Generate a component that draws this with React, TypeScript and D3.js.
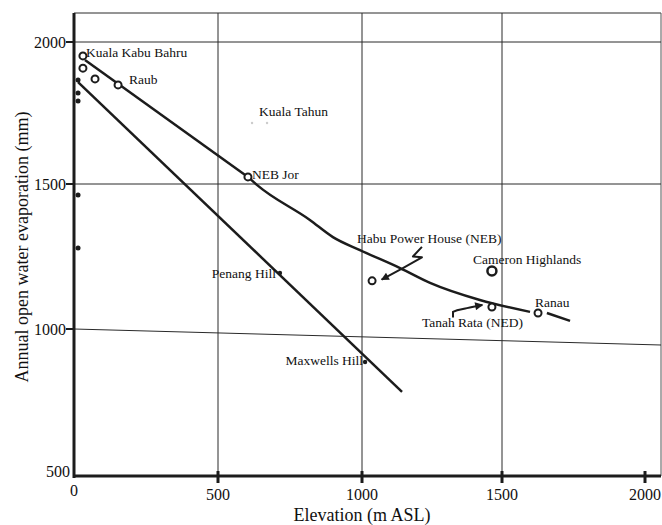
import React from 'react';
import * as d3 from 'd3';

// values
const siteNames = [
  'Kuala Kabu Bahru',
  'Raub',
  'Kuala Tahun',
  'NEB Jor',
  'Penang Hill',
  'Maxwells Hill',
  'Habu Power House (NEB)',
  'Cameron Highlands',
  'Tanah Rata (NED)',
  'Ranau',
];
const siteElevation = [31, 153, 646, 604, 715, 1011, 1036, 1464, 1464, 1626];
const siteEvaporation = [1951, 1849, 1715, 1525, 1193, 888, 1166, 1200, 1076, 1055];

// unlabelled rings near the top left
const extraElevation = [31, 73];
const extraEvaporation = [1908, 1870];

// dark dots sitting on the y axis
const axisDotElevation = [14, 14, 14, 14, 14];
const axisDotEvaporation = [1866, 1820, 1792, 1462, 1279];

// upper regression line: straight down to NEB Jor, then bending
const upperElevation = [38, 604, 635, 819, 899, 993, 1136, 1243, 1421, 1598];
const upperEvaporation = [1937, 1525, 1497, 1376, 1317, 1272, 1210, 1159, 1100, 1059];
const upperTailElevation = [1657, 1738];
const upperTailEvaporation = [1055, 1028];

// lower straight line
const lowerElevation = [14, 1143];
const lowerEvaporation = [1859, 786];

// hand drawn arrows
const habuArrowElevation = [1214, 1182, 1214, 1146, 1070];
const habuArrowEvaporation = [1283, 1250, 1247, 1210, 1170];
const tanahArrowElevation = [1325, 1325, 1375, 1430];
const tanahArrowEvaporation = [1040, 1059, 1072, 1083];

const xTicks = [0, 500, 1000, 1500, 2000];
const yTicks = [500, 1000, 1500, 2000];

const width = 662;
const height = 525;
const left = 74;
const right = 661;
const top = 13;
const bottom = 476;

// the scan is not quite even, so piecewise scales
const x = d3.scaleLinear().domain([0, 500, 1000, 1500, 2000]).range([74, 218, 362, 502, 645]);
const y = d3.scaleLinear().domain([500, 1000, 1500, 2000]).range([476, 329, 184, 42]);

const ink = '#1c1c1c';
const font = '"Liberation Serif", "Times New Roman", serif';

const markerStyle = {
  'Kuala Kabu Bahru': 'ring',
  Raub: 'ring',
  'Kuala Tahun': 'faint',
  'NEB Jor': 'ring',
  'Penang Hill': 'dot',
  'Maxwells Hill': 'dot',
  'Habu Power House (NEB)': 'ring',
  'Cameron Highlands': 'big',
  'Tanah Rata (NED)': 'ring',
  Ranau: 'ring',
};

const labelOffset = {
  'Kuala Kabu Bahru': [3, 1, 'start'],
  Raub: [11, -1, 'start'],
  'Kuala Tahun': [-1, -7, 'start'],
  'NEB Jor': [4, 2, 'start'],
  'Penang Hill': [-4, 5, 'end'],
  'Maxwells Hill': [-2, 3, 'end'],
  'Habu Power House (NEB)': [-15, -38, 'start'],
  'Cameron Highlands': [-19, -7, 'start'],
  'Tanah Rata (NED)': [-70, 20, 'start'],
  Ranau: [-3, -6, 'start'],
};

const zip = (xs, ys) => xs.map((v, i) => [v, ys[i]]);

const curve = d3
  .line()
  .x(d => x(d[0]))
  .y(d => y(d[1]))
  .curve(d3.curveMonotoneX);
const straight = d3
  .line()
  .x(d => x(d[0]))
  .y(d => y(d[1]));

const upperPts = zip(upperElevation, upperEvaporation);

const App = () => {
  return (
    <svg
      width={width}
      height={height}
      style={{ position: 'absolute', left: 0, top: 0, background: '#fff' }}
      fontFamily={font}
    >
      <defs>
        <marker id="head" viewBox="0 0 10 10" refX="9" refY="5" markerWidth="5" markerHeight="4" orient="auto">
          <path d="M0,0 L10,5 L0,10 z" fill={ink} />
        </marker>
      </defs>

      {/* grid */}
      <g stroke="#2a2a2a" strokeWidth={1}>
        <line x1={left} x2={right} y1={top} y2={top} />
        <line x1={right} x2={right} y1={top} y2={bottom} stroke="#555" />
        {[500, 1000, 1500].map(v => (
          <line key={v} x1={x(v)} x2={x(v)} y1={top} y2={bottom} />
        ))}
        <line x1={left} x2={right} y1={y(2000)} y2={y(2000)} />
        <line x1={left} x2={right} y1={y(1500)} y2={y(1500)} />
        {/* the original scan is slightly tilted at this line */}
        <line x1={left} x2={right} y1={y(1000)} y2={y(1000) + 16} />
      </g>

      {/* axes */}
      <line x1={left} x2={left} y1={top} y2={bottom + 2} stroke={ink} strokeWidth={3} />
      <line x1={left} x2={right} y1={bottom} y2={bottom} stroke={ink} strokeWidth={3} />
      {yTicks.slice(1).map(v => (
        <line key={v} x1={left - 8} x2={left} y1={y(v)} y2={y(v)} stroke={ink} strokeWidth={2} />
      ))}
      {xTicks.slice(1).map(v => (
        <line key={v} x1={x(v)} x2={x(v)} y1={bottom - 5} y2={bottom + 7} stroke={ink} strokeWidth={3} />
      ))}

      {yTicks.map(v => (
        <text
          key={v}
          x={v === 500 ? left - 4 : left - 8}
          y={v === 500 ? y(v) + 1 : y(v) + 6}
          textAnchor="end"
          fontSize={16}
          fill="#111"
        >
          {v}
        </text>
      ))}
      {xTicks.map(v => (
        <text key={v} x={x(v)} y={v === 0 ? 496 : 500} textAnchor="middle" fontSize={16} fill="#111">
          {v}
        </text>
      ))}

      <text x={362} y={521} textAnchor="middle" fontSize={18} fill="#111">
        Elevation (m ASL)
      </text>
      <text transform="translate(28,247) rotate(-90)" textAnchor="middle" fontSize={18} fill="#111">
        Annual open water evaporation (mm)
      </text>

      {/* fitted lines */}
      <path d={straight(upperPts.slice(0, 2))} fill="none" stroke={ink} strokeWidth={2.5} />
      <path d={curve(upperPts.slice(1))} fill="none" stroke={ink} strokeWidth={2.5} />
      <path d={straight(zip(upperTailElevation, upperTailEvaporation))} fill="none" stroke={ink} strokeWidth={2.5} />
      <path d={straight(zip(lowerElevation, lowerEvaporation))} fill="none" stroke={ink} strokeWidth={2.5} />

      {/* arrows */}
      <path
        d={straight(zip(habuArrowElevation, habuArrowEvaporation))}
        fill="none"
        stroke={ink}
        strokeWidth={2}
        strokeLinejoin="round"
        markerEnd="url(#head)"
      />
      <path
        d={curve(zip(tanahArrowElevation, tanahArrowEvaporation))}
        fill="none"
        stroke={ink}
        strokeWidth={2}
        markerEnd="url(#head)"
      />

      {/* points */}
      {zip(axisDotElevation, axisDotEvaporation).map((d, i) => (
        <circle key={'a' + i} cx={x(d[0])} cy={y(d[1])} r={2.5} fill={ink} />
      ))}
      {zip(extraElevation, extraEvaporation).map((d, i) => (
        <circle key={'e' + i} cx={x(d[0])} cy={y(d[1])} r={3.5} fill="#fff" stroke={ink} strokeWidth={2} />
      ))}
      {siteNames.map((name, i) => {
        const cx = x(siteElevation[i]);
        const cy = y(siteEvaporation[i]);
        const kind = markerStyle[name];
        const [dx, dy, anchor] = labelOffset[name];
        let mark = null;
        if (kind === 'ring') {
          mark = <circle cx={cx} cy={cy} r={3.5} fill="#fff" stroke={ink} strokeWidth={2} />;
        } else if (kind === 'big') {
          mark = <circle cx={cx} cy={cy} r={4.5} fill="#fff" stroke={ink} strokeWidth={2.5} />;
        } else if (kind === 'dot') {
          mark = <circle cx={cx} cy={cy} r={2.2} fill={ink} />;
        } else {
          mark = (
            <g fill="#ccc">
              <circle cx={cx - 8} cy={cy} r={1.2} />
              <circle cx={cx + 7} cy={cy} r={1.2} />
            </g>
          );
        }
        return (
          <g key={name}>
            {mark}
            <text x={cx + dx} y={cy + dy} textAnchor={anchor} fontSize={13.5} fill="#111">
              {name}
            </text>
          </g>
        );
      })}
    </svg>
  );
};

export default App;
